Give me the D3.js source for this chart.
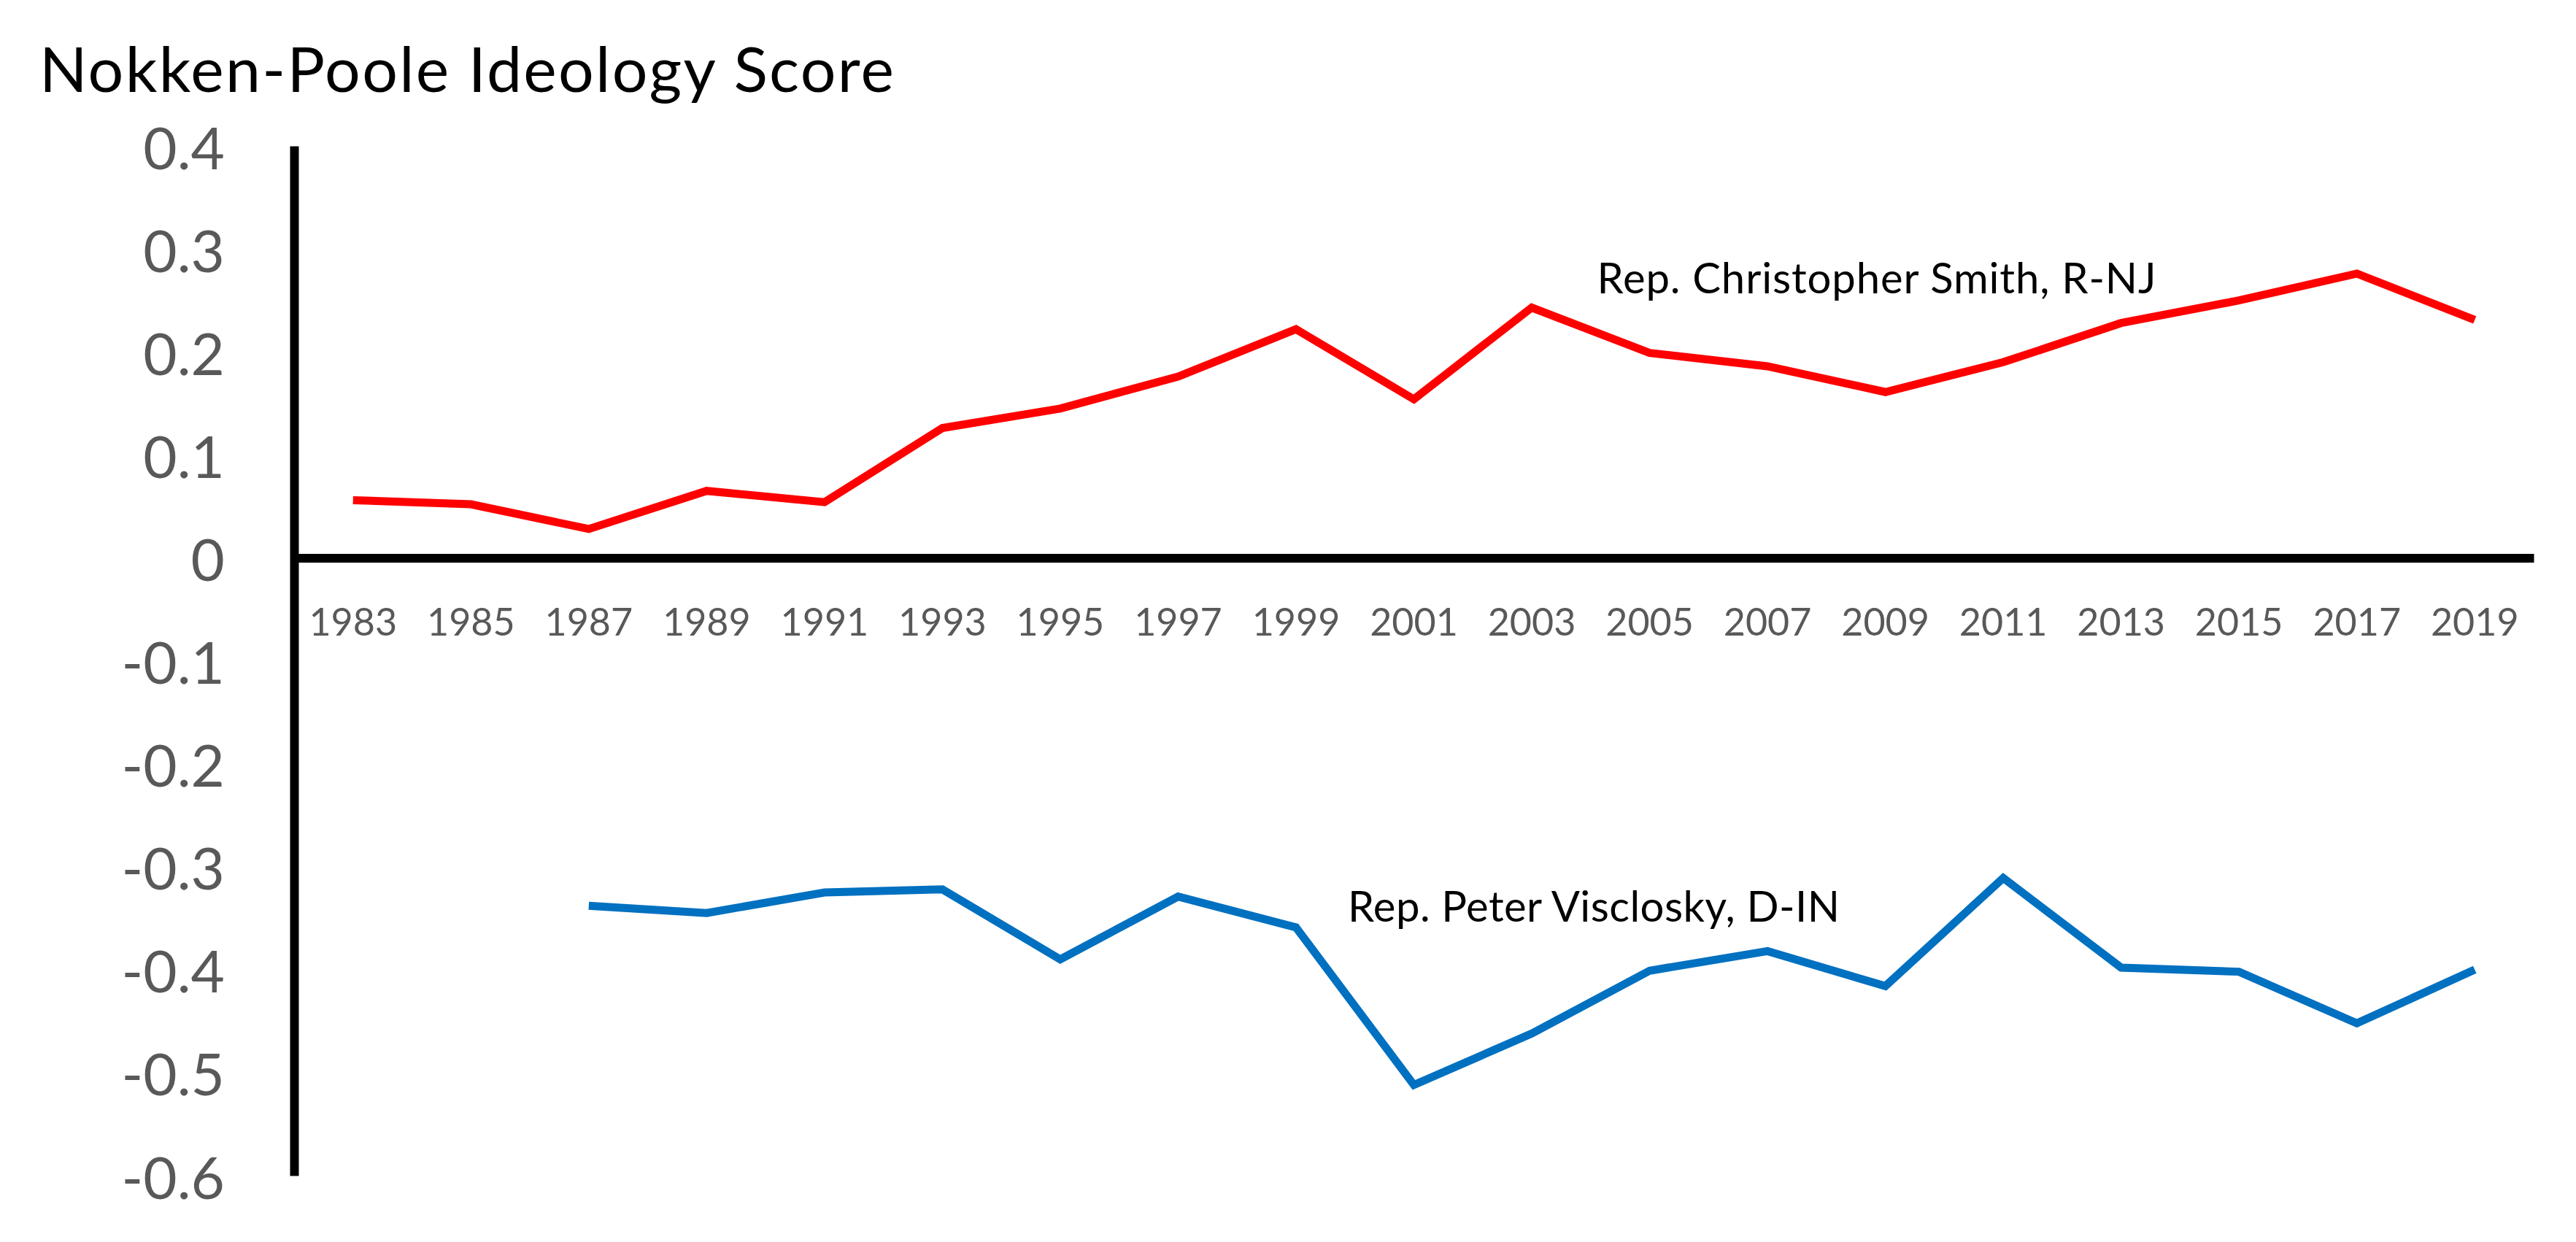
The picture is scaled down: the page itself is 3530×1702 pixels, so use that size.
<!DOCTYPE html>
<html>
<head>
<meta charset="utf-8">
<script src="https://cdn.jsdelivr.net/npm/d3@7"></script>
<style>
	body { margin: 0; background: #fff; }
	svg { display: block; }
</style>
</head>
<body>
<div id="chart"></div>
<script>

const years = ['1983', '1985', '1987', '1989', '1991', '1993', '1995', '1997', '1999', '2001',
	'2003', '2005', '2007', '2009', '2011', '2013', '2015', '2017', '2019'];

// Rep. Christopher Smith, R-NJ
const smithScores = [0.056, 0.052, 0.028, 0.065, 0.054, 0.126, 0.145, 0.176, 0.222, 0.154,
	0.243, 0.199, 0.186, 0.161, 0.190, 0.228, 0.250, 0.276, 0.231];

// Rep. Peter Visclosky, D-IN (pas encore élu en 1983 et 1985)
const viscloskyScores = [null, null, -0.338, -0.345, -0.325, -0.322, -0.390, -0.329, -0.359, -0.512,
	-0.462, -0.401, -0.382, -0.416, -0.311, -0.398, -0.402, -0.452, -0.400];

const yTicks = [0.4, 0.3, 0.2, 0.1, 0, -0.1, -0.2, -0.3, -0.4, -0.5, -0.6];

const titleText = 'Nokken-Poole Ideology Score';
const seriesLabels = ['Rep. Christopher Smith, R-NJ', 'Rep. Peter Visclosky, D-IN'];

class IdeologyChart {

	constructor(options) {
		this.element = options.element;
		this.draw();
	}

	draw() {
		this.width = 3530;
		this.height = 1702;
		this.font = 'Lato, "Open Sans", sans-serif';

		this.createSVG();
		this.createScales();
		this.createAxes();
		this.createLines();
		this.createLabels();
	}

	createSVG() {
		this.svg = d3.select(this.element)
			.append('svg')
				.attr('width', this.width)
				.attr('height', this.height);

		this.svg.append('rect')
			.attr('width', this.width)
			.attr('height', this.height)
			.attr('fill', '#fff');
	}

	createScales() {
		// axe des catégories : 19 années, chaque point au milieu de sa bande
		this.xScale = d3.scaleBand()
			.domain(years)
			.range([403, 3472]);

		this.yScale = d3.scaleLinear()
			.domain([-0.6, 0.4])
			.range([1611, 200]);
	}

	createAxes() {

		// tiret simple comme signe moins, comme dans Excel
		this.yAxis = d3.axisLeft(this.yScale)
			.tickValues(yTicks)
			.tickSize(0)
			.tickFormat(d => d === 0 ? '0' : d.toFixed(1));

		const gy = this.svg.append('g')
			.attr('class', 'yAxis')
			.attr('transform', 'translate(403, 0)')
			.call(this.yAxis);

		gy.select('.domain')
			.attr('stroke', '#000')
			.attr('stroke-width', 12);

		gy.selectAll('text')
			.attr('x', -95)
			.attr('dy', null)
			.attr('y', 31)
			.attr('fill', '#595959')
			.style('font-family', this.font)
			.style('font-size', '80px');

		this.xAxis = d3.axisBottom(this.xScale)
			.tickSize(0)
			.tickSizeOuter(0);

		const gx = this.svg.append('g')
			.attr('class', 'xAxis')
			.attr('transform', `translate(0, ${this.yScale(0)})`)
			.call(this.xAxis);

		gx.select('.domain')
			.attr('stroke', '#000')
			.attr('stroke-width', 12);

		gx.selectAll('text')
			.attr('dy', null)
			.attr('y', 107)
			.attr('fill', '#595959')
			.style('font-family', this.font)
			.style('font-size', '52px');
	}

	createLines() {
		const that = this;
		const half = this.xScale.bandwidth() / 2;

		const line = d3.line()
			.defined(d => d.value !== null)
			.x(d => that.xScale(d.year) + half)
			.y(d => that.yScale(d.value));

		const series = [
			{ values: smithScores, color: '#ff0000' },
			{ values: viscloskyScores, color: '#0070c0' }
		];

		this.svg.append('g')
			.selectAll('path')
			.data(series).enter()
			.append('path')
				.attr('fill', 'none')
				.attr('stroke', d => d.color)
				.attr('stroke-width', 11)
				.attr('d', d => line(years.map((y, i) => ({ year: y, value: d.values[i] }))));
	}

	createLabels() {
		this.svg.append('text')
			.attr('x', 54)
			.attr('y', 126)
			.attr('fill', '#000')
			.attr('textLength', 1171)
			.attr('lengthAdjust', 'spacing')
			.style('font-family', this.font)
			.style('font-size', '86px')
			.text(titleText);

		const half = this.xScale.bandwidth() / 2;

		// étiquettes des séries, calées sur les échelles
		this.svg.append('text')
			.attr('x', this.xScale('2005') + half - 72)
			.attr('y', this.yScale(0.2565))
			.attr('fill', '#000')
			.attr('textLength', 766)
			.attr('lengthAdjust', 'spacing')
			.style('font-family', this.font)
			.style('font-size', '58px')
			.text(seriesLabels[0]);

		this.svg.append('text')
			.attr('x', this.xScale('1999') + half + 71)
			.attr('y', this.yScale(-0.3535))
			.attr('fill', '#000')
			.attr('textLength', 674)
			.attr('lengthAdjust', 'spacing')
			.style('font-family', this.font)
			.style('font-size', '58px')
			.text(seriesLabels[1]);
	}

}

new IdeologyChart({ element: '#chart' });

</script>
</body>
</html>
